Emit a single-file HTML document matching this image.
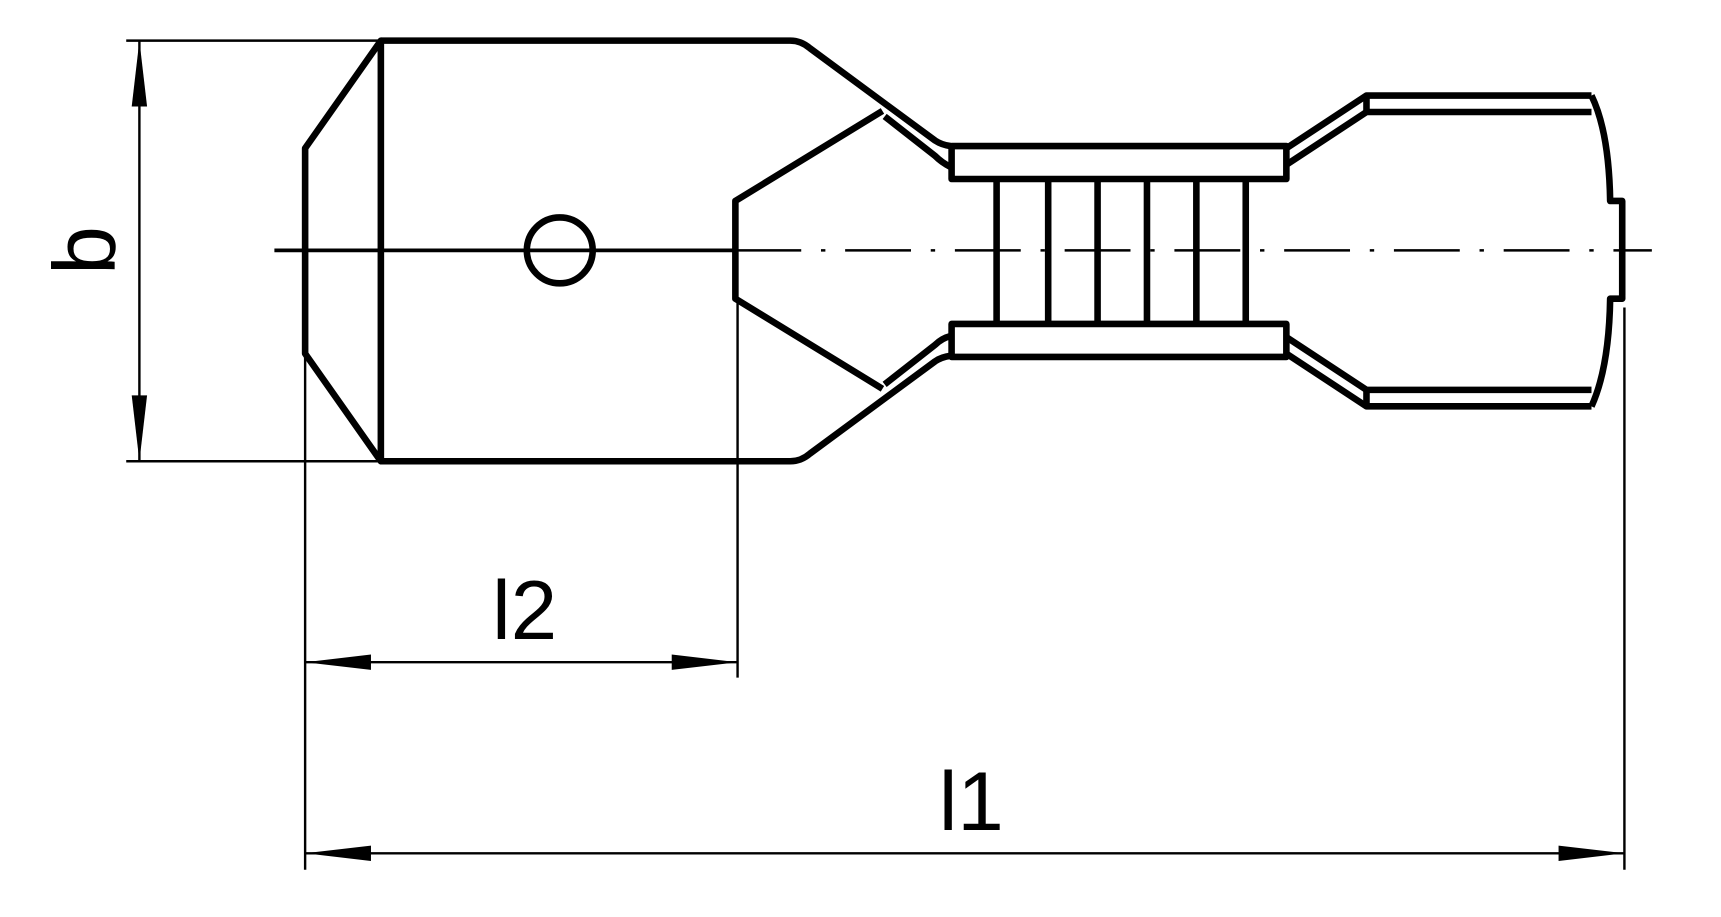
<!DOCTYPE html>
<html><head><style>html,body{margin:0;padding:0;background:#fff}svg{display:block}</style></head>
<body>
<svg width="1721" height="917" viewBox="0 0 1568 835" preserveAspectRatio="none" xmlns="http://www.w3.org/2000/svg">
<g fill="none" stroke="#000" stroke-linejoin="round">
<g stroke-width="2.2">
<line x1="115" y1="37" x2="347" y2="37"/>
<line x1="115" y1="420" x2="347" y2="420"/>
<line x1="127" y1="37" x2="127" y2="420"/>
<line x1="278" y1="322" x2="278" y2="792"/>
<line x1="672" y1="272" x2="672" y2="617"/>
<line x1="1480" y1="280" x2="1480" y2="792"/>
<line x1="278" y1="603" x2="672" y2="603"/>
<line x1="278" y1="777" x2="1480" y2="777"/>
<line x1="670" y1="228" x2="1505" y2="228" stroke-dasharray="60,18,4,18"/>
</g>
<g stroke-width="6">
<line x1="250" y1="228" x2="670" y2="228" stroke-width="3.5"/>
<path d="M347,37 L720,37 Q730,37 738,44 L852,128 Q858,132 866,133"/>
<path d="M347,420 L720,420 Q730,420 738,413 L852,329 Q858,325 866,324"/>
<path d="M347,37 L278,135 L278,322 L347,420 Z"/>
<path d="M804,101 L670,183 L670,272 L804,354"/>
<path d="M806,106 L852,142 Q858,148 866,152"/>
<path d="M806,350 L852,314 Q858,308 866,306"/>
<rect x="867" y="133" width="305" height="30"/>
<rect x="867" y="295" width="305" height="30"/>
<line x1="908" y1="163" x2="908" y2="295"/>
<line x1="955" y1="163" x2="955" y2="295"/>
<line x1="1000" y1="163" x2="1000" y2="295"/>
<line x1="1045" y1="163" x2="1045" y2="295"/>
<line x1="1090" y1="163" x2="1090" y2="295"/>
<line x1="1135" y1="163" x2="1135" y2="295"/>
<circle cx="510" cy="228" r="30"/>
<path d="M1172,135 L1245,87 L1450,87"/>
<path d="M1172,150 L1245,102 L1450,102"/>
<line x1="1245" y1="87" x2="1245" y2="102"/>
<path d="M1172,307 L1245,355 L1450,355"/>
<path d="M1172,322 L1245,370 L1450,370"/>
<line x1="1245" y1="355" x2="1245" y2="370"/>
<path d="M1450,87 Q1466,120 1467,183 L1478,183 L1478,272 L1467,272 Q1466,335 1450,370"/>
</g>
</g>
<g fill="#000">
<polygon points="127,37 120,97 134,97"/>
<polygon points="127,420 120,360 134,360"/>
<polygon points="278,603 338,596 338,610"/>
<polygon points="672,603 612,596 612,610"/>
<polygon points="278,777 338,770 338,784"/>
<polygon points="1480,777 1420,770 1420,784"/>
</g>
<g font-family="Liberation Sans, sans-serif" fill="#000">
<text x="478" y="582" text-anchor="middle" font-size="76">l2</text>
<text x="885" y="756" text-anchor="middle" font-size="76">l1</text>
<text transform="translate(105,228) rotate(-90)" text-anchor="middle" font-size="80">b</text>
</g>
</svg>
</body></html>
